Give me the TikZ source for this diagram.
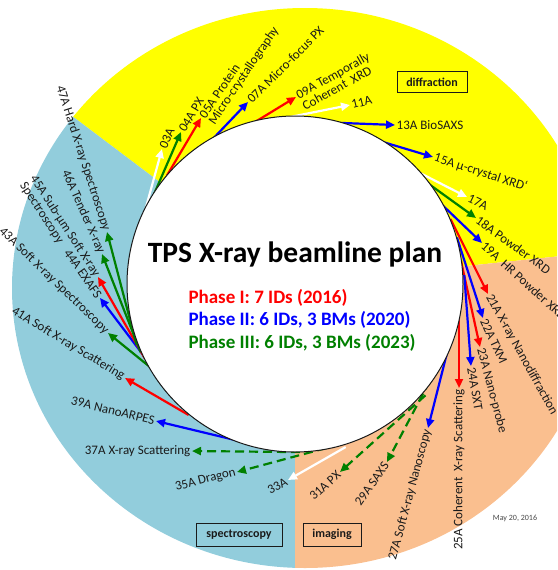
\documentclass[tikz,border=0pt]{standalone}
\usepackage{fontspec}
\setmainfont{Carlito}
\usetikzlibrary{arrows.meta,calc}
\definecolor{diffyel}{HTML}{FFFF00}
\definecolor{specblue}{HTML}{92CDDC}
\definecolor{imgorange}{HTML}{FABF8F}
\definecolor{phaseone}{HTML}{FF0000}
\definecolor{phasetwo}{HTML}{0000FF}
\definecolor{phasethree}{HTML}{008000}
\definecolor{ink}{HTML}{1A1A1A}

\begin{document}
\begin{tikzpicture}[x=1pt,y=-1pt,
  beam/.style={-{Triangle[length=9pt,width=8pt]},line width=2.2pt},
  bred/.style={beam,draw=phaseone},
  bblue/.style={beam,draw=phasetwo},
  bgreen/.style={beam,draw=phasethree},
  bgdash/.style={beam,draw=phasethree,dash pattern=on 9pt off 5pt},
  bwhite/.style={beam,draw=white},
  lbl/.style={font=\fontsize{13}{14}\selectfont,text=ink,inner sep=1.5pt},
  secbox/.style={draw=ink,line width=.9pt,font=\bfseries\fontsize{12}{13}\selectfont,
    text=ink,inner sep=0pt},
  phase/.style={anchor=base west,font=\bfseries\fontsize{19}{21}\selectfont}]

\clip (0,0) rectangle (557,570);

% ---- ring centre and outer disc ----
\coordinate (C) at (295,284);
\coordinate (O) at (305,288);

% ---- three sectors ----
\begin{scope}
 \clip (C) -- ($(C)+(-6:800)$) -- ($(C)+(-75:800)$) -- ($(C)+(-143:800)$) -- cycle;
 \fill[diffyel] (O) ellipse[x radius=293,y radius=280];
\end{scope}
\begin{scope}
 \clip (C) -- ($(C)+(-143:800)$) -- ($(C)+(-206:800)$) -- ($(C)+(90:800)$) -- cycle;
 \fill[specblue] (O) ellipse[x radius=293,y radius=280];
\end{scope}
\begin{scope}
 \clip (C) -- ($(C)+(90:800)$) -- ($(C)+(42:800)$) -- ($(C)+(-6:800)$) -- cycle;
 \fill[imgorange] (O) ellipse[x radius=293,y radius=280];
\end{scope}

% ---- beamlines: id / start / tip / style ----
\foreach \n/\ax/\ay/\tx/\ty/\s in {
  03/148/200/162/149/bwhite, 04/158/185/181/132/bgreen, 05/172/167/201/118/bred,
  07/208/144/248/102/bblue, 09/255/122/296/97/bred, 11/300/115/350/105/bwhite,
  13/343/123/395/125/bblue, 15/383/142/433/157/bblue, 17/420/173/467/197/bwhite,
  18/433/187/476/218/bgreen, 19/437/200/482/243/bblue, 21/455/228/488/294/bred,
  22/460/247/483/318/bblue, 23/463/270/480/347/bred, 24/465/285/471/366/bblue,
  25/459/322/459/388/bred, 27/447/353/428/428/bblue, 29/425/390/387/462/bgdash,
  31/418/402/340/472/bgdash, 33/337/452/288/480/bwhite, 35/330/447/237/472/bgdash,
  37/290/452/192/451/bgdash, 39/235/440/156/421/bblue, 41/180/410/125/378/bred,
  43/150/367/108/333/bgreen, 44/147/360/100/298/bblue, 45/140/350/98/277/bred,
  46/137/343/102/254/bgreen, 47/134/335/107/232/bgreen}{
 \coordinate (a\n) at (\ax,\ay);
 \coordinate (t\n) at (\tx,\ty);
 \draw[\s] ($(a\n)!-10pt!(t\n)$) -- (t\n);
}

% ---- storage ring ----
\node[circle,draw=ink,line width=1pt,fill=white,minimum size=336pt,inner sep=0pt]
  (ring) at (C) {};

% ---- beamline labels ----
\foreach \n/\r/\a/\t in {
  03/66/west/03A, 04/59/west/04A PX, 07/45/west/07A Micro-focus PX,
  11/14/west/11A, 13/0/west/13A BioSAXS, 15/-18/west/15A µ-crystal XRD`,
  17/-25/west/17A, 18/-36/west/18A Powder XRD, 19/-42/west/19A\ \ HR Powder XRD,
  21/-61/west/21A X-ray Nanodiffraction, 22/-65/west/22A TXM,
  23/-75/west/23A Nano-probe, 24/-80/west/24A SXT,
  25/90/east/25A Coherent\ \ X-ray Scattering, 27/75/east/27A Soft X-ray Nanoscopy,
  29/55/east/29A SAXS, 31/42/east/31A PX, 33/29/east/33A, 35/14.5/east/35A Dragon,
  37/0/east/37A X-ray Scattering, 39/-13.7/east/39A NanoARPES,
  41/-31/east/41A Soft X-ray Scattering, 43/-44/east/43A Soft X-ray Spectroscopy,
  44/-55/east/44A EXAFS, 46/-66/east/46A Tender X-ray,
  47/-72/east/47A Hard X-ray Spectroscopy}{
 \node[lbl,rotate=\r,anchor=\a] (l\n) at (t\n) {\t};
}
% two-line labels
\node[lbl,rotate=56,anchor=west] (l05) at (t05) {05A Protein};
\node[lbl,rotate=56,anchor=north west,inner ysep=0pt] (l05b) at (l05.south west) {Micro-crystallography};
\node[lbl,rotate=29,anchor=west] (l09) at (t09) {09A Temporally};
\node[lbl,rotate=29,anchor=north west,inner ysep=0pt] (l09b) at (l09.south west) {Coherent\ \ XRD};
\node[lbl,rotate=-57,anchor=east] (l45) at (t45) {45A Sub-µm Soft X-ray};
\node[lbl,rotate=-57,anchor=north west,inner ysep=0pt] (l45b) at (l45.south west) {Spectroscopy};

% ---- title and phases ----
\node[anchor=base,font=\bfseries\fontsize{29.5}{31}\selectfont,text=black] (title)
  at (295,262) {TPS X-ray beamline plan};
\node[phase,text=phaseone] (ph1) at (185,303) {Phase I: 7 IDs (2016)};
\node[phase,text=phasetwo] (ph2) at (185,325) {Phase II: 6 IDs, 3 BMs (2020)};
\node[phase,text=phasethree] (ph3) at (185,348) {Phase III: 6 IDs, 3 BMs (2023)};

% ---- sector tags ----
\node[secbox,minimum width=70pt,minimum height=21pt] (diff) at (432,82) {diffraction};
\node[secbox,minimum width=86pt,minimum height=23pt] (spec) at (239,534.5) {spectroscopy};
\node[secbox,minimum width=58pt,minimum height=23pt] (imag) at (332,534.5) {imaging};
\node[font=\fontsize{8}{9}\selectfont,text=ink!80] (date) at (515,518) {May 20, 2016};

\end{tikzpicture}
\end{document}
